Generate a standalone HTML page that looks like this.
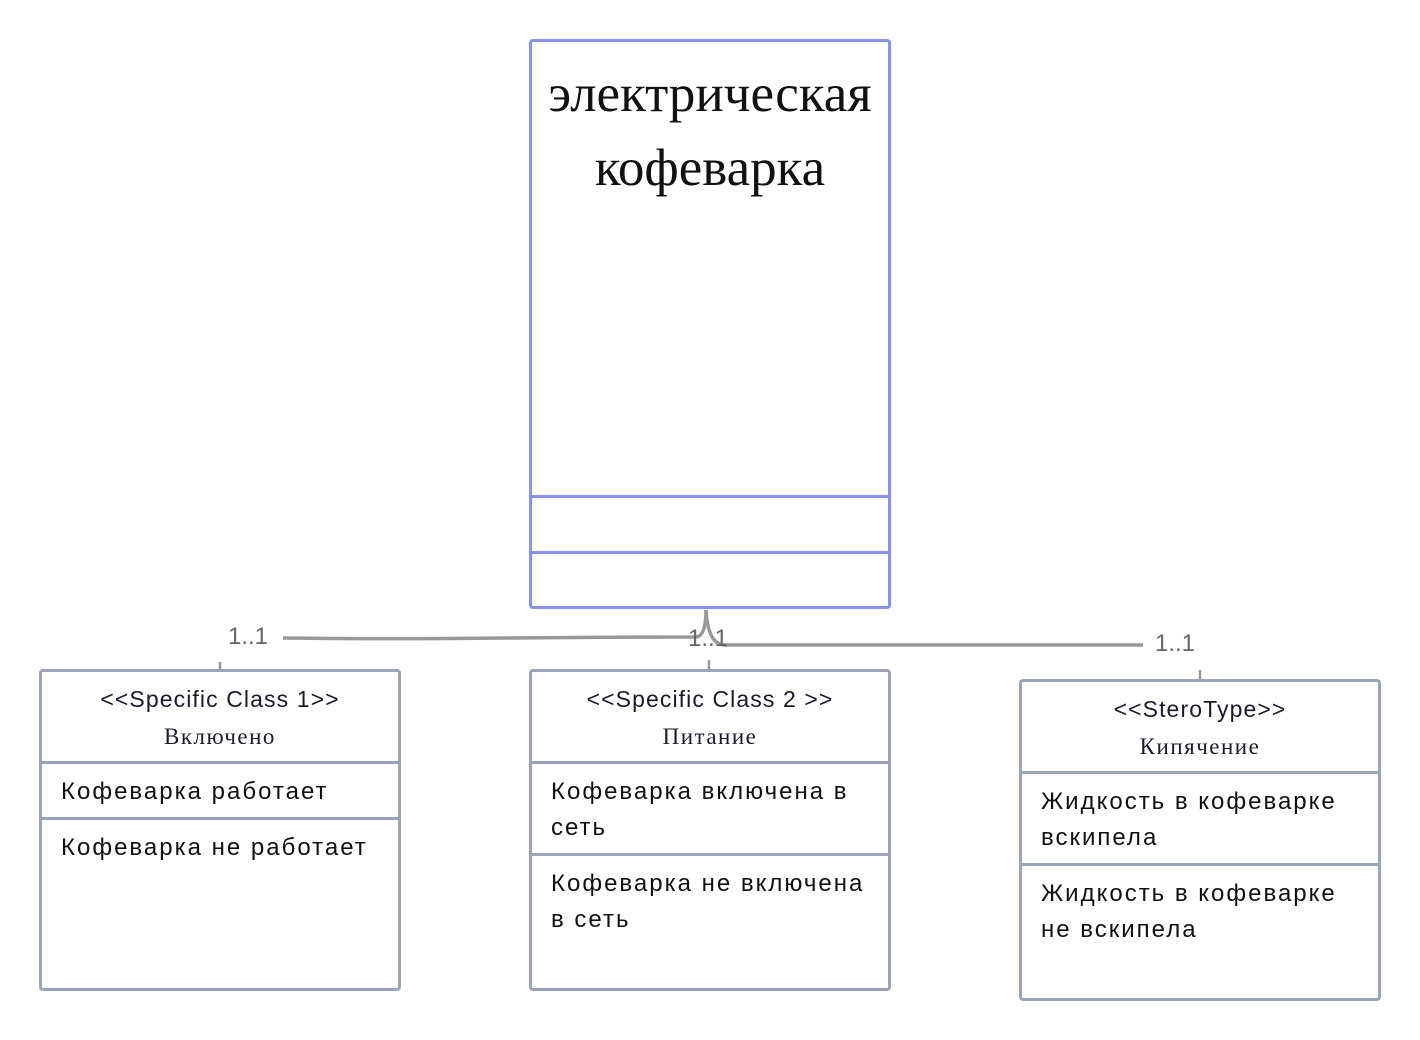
<!DOCTYPE html>
<html><head><meta charset="utf-8"><style>
body{margin:0;width:1420px;height:1040px;background:#fff;position:relative;overflow:hidden;font-family:"Liberation Sans","DejaVu Sans",sans-serif}
.b{position:absolute;box-sizing:border-box;border:3px solid #9aa5b8;border-radius:4px;background:#fff}
.h{position:absolute;left:0;right:0;border-top:3px solid #9aa5b8}
.st{position:absolute;left:0;right:0;text-align:center;font-size:23px;color:#1a1a2e;letter-spacing:1.1px}
.nm{position:absolute;left:0;right:0;text-align:center;font-family:"Liberation Serif",serif;font-size:23px;color:#1a1a2e;letter-spacing:1.5px}
.it{position:absolute;left:19px;right:8px;font-size:24px;line-height:36px;color:#111;letter-spacing:2px}
.lb{position:absolute;font-size:24px;color:#666}
</style></head><body>
<svg width="1420" height="1040" style="position:absolute;left:0;top:0">
<path d="M283 638 C450 640 500 637 696 637 Q706 636 706 610" stroke="#999" stroke-width="3.5" fill="none"/>
<path d="M706 610 Q708 645 725 645 L1143 645" stroke="#999" stroke-width="3.5" fill="none"/>
<line x1="220" y1="662" x2="220" y2="670" stroke="#999" stroke-width="2.5"/>
<line x1="709" y1="660" x2="709" y2="670" stroke="#999" stroke-width="2.5"/>
<line x1="1200" y1="670" x2="1200" y2="680" stroke="#999" stroke-width="2.5"/>
</svg>
<div class="lb" style="left:228px;top:623px">1..1</div>
<div class="lb" style="left:688px;top:625px">1..1</div>
<div class="lb" style="left:1155px;top:630px">1..1</div>

<div class="b" style="left:529px;top:39px;width:362px;height:570px;border-color:#8a91ea">
<div style="position:absolute;left:-10px;right:-10px;top:15px;text-align:center;font-family:'Liberation Serif',serif;font-size:53px;line-height:74px;color:#111">электрическая<br>кофеварка</div>
<div class="h" style="top:453px;border-color:#8a91ea"></div>
<div class="h" style="top:509px;border-color:#8a91ea"></div>
</div>

<div class="b" style="left:39px;top:669px;width:362px;height:322px">
<div class="st" style="top:14px">&lt;&lt;Specific Class 1&gt;&gt;</div>
<div class="nm" style="top:52px">Включено</div>
<div class="h" style="top:89px"></div>
<div class="it" style="top:102px">Кофеварка работает</div>
<div class="h" style="top:145px"></div>
<div class="it" style="top:158px">Кофеварка не работает</div>
</div>

<div class="b" style="left:529px;top:669px;width:362px;height:322px">
<div class="st" style="top:14px">&lt;&lt;Specific Class 2 &gt;&gt;</div>
<div class="nm" style="top:52px">Питание</div>
<div class="h" style="top:89px"></div>
<div class="it" style="top:102px">Кофеварка включена в сеть</div>
<div class="h" style="top:181px"></div>
<div class="it" style="top:194px">Кофеварка не включена в сеть</div>
</div>

<div class="b" style="left:1019px;top:679px;width:362px;height:322px">
<div class="st" style="top:14px">&lt;&lt;SteroType&gt;&gt;</div>
<div class="nm" style="top:52px">Кипячение</div>
<div class="h" style="top:89px"></div>
<div class="it" style="top:102px">Жидкость в кофеварке вскипела</div>
<div class="h" style="top:181px"></div>
<div class="it" style="top:194px">Жидкость в кофеварке не вскипела</div>
</div>
</body></html>
